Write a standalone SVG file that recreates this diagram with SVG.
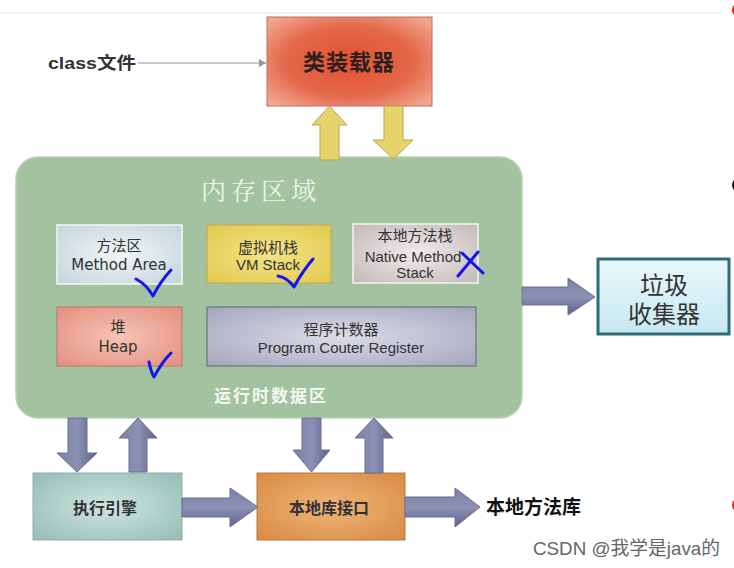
<svg xmlns="http://www.w3.org/2000/svg" width="734" height="568" viewBox="0 0 734 568">
<defs>
<radialGradient id="gRed" cx="50%" cy="50%" r="65%"><stop offset="0" stop-color="#e0522f"/><stop offset="0.6" stop-color="#e4684a"/><stop offset="1" stop-color="#f2a58f"/></radialGradient>
<radialGradient id="gMeth" cx="50%" cy="50%" r="70%"><stop offset="0" stop-color="#f2f6f7"/><stop offset="1" stop-color="#c3d4dc"/></radialGradient>
<radialGradient id="gVM" cx="50%" cy="50%" r="70%"><stop offset="0" stop-color="#f4e486"/><stop offset="1" stop-color="#e2c84e"/></radialGradient>
<radialGradient id="gNat" cx="50%" cy="50%" r="70%"><stop offset="0" stop-color="#f0ecec"/><stop offset="1" stop-color="#c4b8b8"/></radialGradient>
<radialGradient id="gHeap" cx="50%" cy="50%" r="70%"><stop offset="0" stop-color="#f6c4b6"/><stop offset="1" stop-color="#e38f7e"/></radialGradient>
<radialGradient id="gPC" cx="50%" cy="50%" r="70%"><stop offset="0" stop-color="#dcdce8"/><stop offset="1" stop-color="#a4a6bc"/></radialGradient>
<radialGradient id="gExe" cx="50%" cy="50%" r="70%"><stop offset="0" stop-color="#cfe5e1"/><stop offset="1" stop-color="#95bcb5"/></radialGradient>
<radialGradient id="gNi" cx="50%" cy="50%" r="70%"><stop offset="0" stop-color="#edb677"/><stop offset="1" stop-color="#d98a45"/></radialGradient>
<linearGradient id="gGC" x1="0" y1="0" x2="0" y2="1"><stop offset="0" stop-color="#eaf7fb"/><stop offset="1" stop-color="#c8e8f2"/></linearGradient>
<linearGradient id="gArrV" x1="0" y1="0" x2="1" y2="0"><stop offset="0" stop-color="#7a7fa6"/><stop offset="0.5" stop-color="#8c91b4"/><stop offset="1" stop-color="#5d6290"/></linearGradient>
<linearGradient id="gArrH" x1="0" y1="0" x2="0" y2="1"><stop offset="0" stop-color="#7a7fa6"/><stop offset="0.5" stop-color="#8c91b4"/><stop offset="1" stop-color="#5d6290"/></linearGradient>
<marker id="thin" markerWidth="8" markerHeight="8" refX="7" refY="4" orient="auto" markerUnits="userSpaceOnUse"><path d="M0,0 L7,4 L0,8 Z" fill="#8a9a9a"/></marker>
<style>
.cjk{font-family:"Liberation Sans","Noto Sans CJK SC",sans-serif;}
.dv{font-family:"DejaVu Sans","Noto Sans CJK SC",sans-serif;}
.lbl{font-size:15px;fill:#333;text-anchor:middle;}
.yel{fill:#e6d36c;stroke:#b5a650;stroke-width:1;}
.sv{fill:url(#gArrV);stroke:#6a6f92;stroke-width:1;}
.sh{fill:url(#gArrH);stroke:#6a6f92;stroke-width:1;}
.ink{fill:none;stroke:#1414f0;stroke-width:3;stroke-linecap:round;stroke-linejoin:round;}
</style>
</defs>
<rect width="734" height="568" fill="#ffffff"/>
<line x1="0" y1="13" x2="722" y2="13" stroke="#eef3f8" stroke-width="2"/>
<circle cx="739" cy="10" r="7" fill="#e02020"/>
<circle cx="739" cy="185" r="7" fill="#111"/>
<circle cx="739" cy="505" r="7" fill="#e02020"/>

<g id="memory">
<rect x="16" y="157" width="506" height="261" rx="22" fill="#a3c2a0" stroke="#b9d0b6" stroke-width="1.5"/>
<text x="261" y="200" font-size="25" fill="#eef4ea" text-anchor="middle" letter-spacing="5" font-family="'Noto Serif CJK SC','Noto Sans CJK SC',serif">内存区域</text>
<text x="271" y="402" class="cjk" font-size="17" font-weight="bold" fill="#f4f8f2" text-anchor="middle" letter-spacing="2">运行时数据区</text>
</g>

<g id="classloader">
<rect x="267" y="17" width="165" height="89" fill="url(#gRed)" stroke="#b8705f" stroke-width="1"/>
<text x="349" y="70" class="cjk" font-size="22" font-weight="bold" fill="#2a2020" text-anchor="middle" letter-spacing="1">类装载器</text>
</g>

<g id="classfile">
<text x="48" y="69" class="cjk" font-size="17" font-weight="bold" fill="#333" textLength="88" lengthAdjust="spacingAndGlyphs">class文件</text>
</g>

<g id="methodarea">
<rect x="57" y="225" width="125" height="59" fill="url(#gMeth)" stroke="#f4f8f8" stroke-width="1.5"/>
<text x="119" y="251" class="cjk lbl">方法区</text>
<text x="119" y="270" class="dv lbl" font-size="14">Method Area</text>
</g>

<g id="vmstack">
<rect x="207" y="225" width="124" height="58" fill="url(#gVM)" stroke="#c4a944" stroke-width="1"/>
<text x="268" y="253" class="cjk lbl" font-size="16">虚拟机栈</text>
<text x="268" y="270" class="cjk lbl" font-size="16">VM Stack</text>
</g>

<g id="nativestack">
<rect x="353" y="224" width="125" height="59" fill="url(#gNat)" stroke="#f6f4f4" stroke-width="1.5"/>
<text x="415" y="241" class="cjk lbl">本地方法栈</text>
<text x="413" y="262" class="cjk lbl">Native Method</text>
<text x="415" y="278" class="cjk lbl">Stack</text>
</g>

<g id="heap">
<rect x="57" y="307" width="125" height="59" fill="url(#gHeap)" stroke="#c27565" stroke-width="1"/>
<text x="118" y="332" class="cjk lbl">堆</text>
<text x="118" y="352" class="dv lbl" font-size="14">Heap</text>
</g>

<g id="pcregister">
<rect x="207" y="307" width="269" height="59" fill="url(#gPC)" stroke="#6d7384" stroke-width="1.2"/>
<text x="341" y="335" class="cjk lbl">程序计数器</text>
<text x="341" y="353" class="cjk lbl">Program Couter Register</text>
</g>

<g id="gc">
<rect x="598" y="259" width="131" height="75" fill="url(#gGC)" stroke="#2f6c76" stroke-width="3"/>
<text x="664" y="294" class="cjk" font-size="24" fill="#333" text-anchor="middle">垃圾</text>
<text x="664" y="323" class="cjk" font-size="24" fill="#333" text-anchor="middle">收集器</text>
</g>

<g id="engine">
<rect x="33" y="473" width="149" height="67" fill="url(#gExe)" stroke="#8fb0ab" stroke-width="1"/>
<text x="105" y="514" class="cjk" font-size="16" font-weight="bold" fill="#333" text-anchor="middle">执行引擎</text>
</g>

<g id="nativeif">
<rect x="257" y="473" width="148" height="67" fill="url(#gNi)" stroke="#b37a3c" stroke-width="1"/>
<text x="329" y="514" class="cjk" font-size="16" font-weight="bold" fill="#333" text-anchor="middle">本地库接口</text>
</g>

<g id="nativelib">
<text x="486" y="514" class="cjk" font-size="19" font-weight="bold" fill="#111">本地方法库</text>
</g>

<g id="connectors">
<line x1="138" y1="63" x2="266" y2="63" stroke="#8a9a9a" stroke-width="1.2" marker-end="url(#thin)"/>
<polygon class="yel" points="320,160 339,160 339,125 347,125 329.5,106 312,125 320,125"/>
<polygon class="yel" points="384,106 403,106 403,140 413,140 393.5,159 373,140 384,140"/>
<polygon class="sh" points="522,287 568,287 568,278 595,297 568,315 568,305 522,305"/>
<polygon class="sv" points="68,418 87,418 87,453 97,453 77,472 57,453 68,453"/>
<polygon class="sv" points="129,472 147,472 147,438 157,438 138,418 119,438 129,438"/>
<polygon class="sv" points="302,418 321,418 321,450 330,450 311.5,472 293,450 302,450"/>
<polygon class="sv" points="365,473 383,473 383,438 393,438 374,418 355,438 365,438"/>
<polygon class="sh" points="182,498 230,498 230,488 258,507 230,527 230,517 182,517"/>
<polygon class="sh" points="405,497 455,497 455,488 480,507 455,527 455,517 405,517"/>
</g>

<g id="marks">
<path class="ink" d="M136,279 Q146,284 153,296 Q160,282 171,270"/>
<path class="ink" d="M278,276 Q288,278 294,287 Q302,272 313,259"/>
<path class="ink" d="M462,253 L483,273 M478,252 L458,276"/>
<path class="ink" d="M149,362 Q151,372 154,377 Q162,362 171,353"/>
</g>

<text x="533" y="555" font-family="'Liberation Sans Narrow','Liberation Sans','Noto Sans CJK SC',sans-serif" font-size="19" fill="#666" textLength="187" lengthAdjust="spacingAndGlyphs">CSDN @我学是java的</text>
</svg>
